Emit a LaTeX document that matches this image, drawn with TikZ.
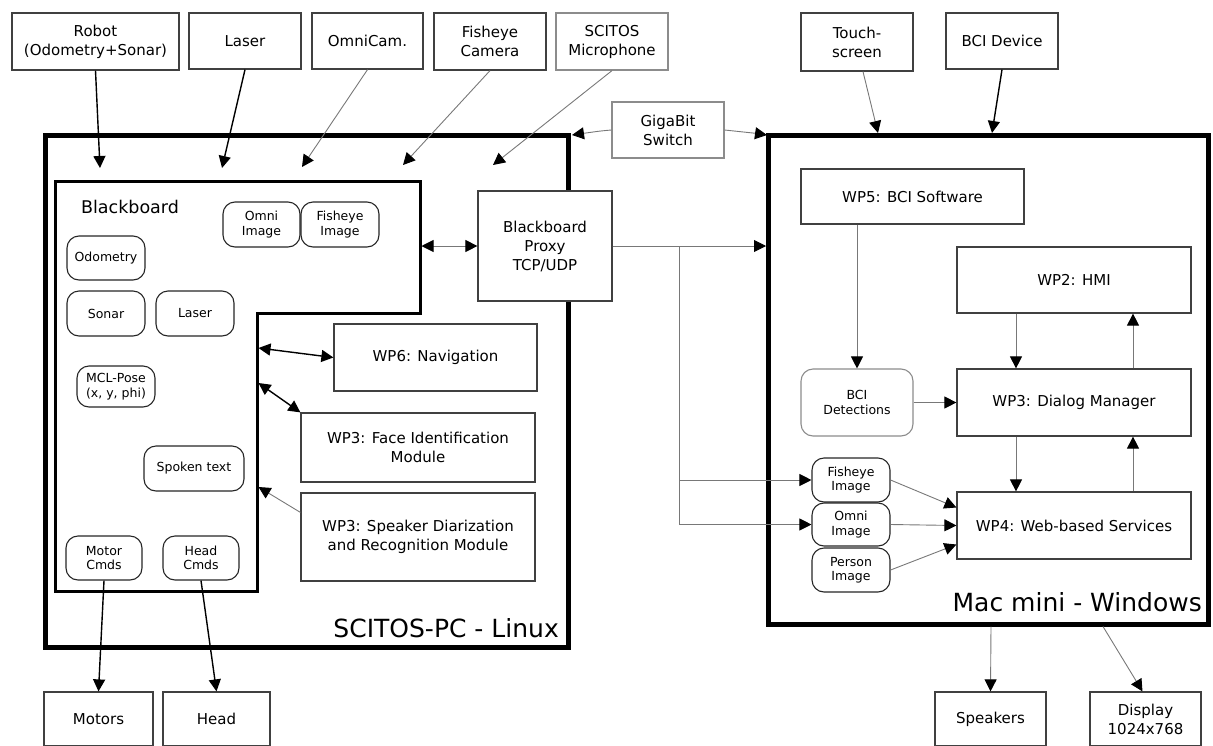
\documentclass[tikz,border=0pt]{standalone}
\usepackage{fontspec}
\setmainfont{DejaVu Sans}
\usetikzlibrary{arrows.meta,calc}
\definecolor{boxc}{HTML}{404040}
\definecolor{lightc}{HTML}{8C8C8C}
\definecolor{linec}{HTML}{787878}
\begin{document}
\begin{tikzpicture}[x=1pt,y=-1pt,
  box/.style={draw=boxc,line width=1.2pt,fill=white,inner sep=2pt,align=center,
    font=\fontsize{15}{19}\selectfont},
  lbox/.style={box,draw=lightc},
  rbox/.style={draw=black!85,line width=1.1pt,rounded corners=12pt,fill=white,inner sep=1pt,
    align=center,font=\fontsize{12.5}{14.5}\selectfont},
  lrbox/.style={rbox,draw=lightc},
  frame/.style={draw=black,line width=5pt,inner sep=0pt,outer sep=0pt},
  tip/.style={-{Triangle[length=12pt,width=12pt,color=black]}},
  dtip/.style={{Triangle[length=12pt,width=12pt,color=black]}-{Triangle[length=12pt,width=12pt,color=black]}},
  blk/.style={draw=black,line width=1.4pt},
  gry/.style={draw=linec,line width=0.9pt},
  biglabel/.style={font=\fontsize{25}{30}\selectfont,inner sep=0pt}]
\useasboundingbox (0,0) rectangle (1213,745);
\clip (0,0) rectangle (1213,745);

% big frames
\node[frame,minimum width=523pt,minimum height=512pt] (scitos) at (306.5,391) {};
\node[frame,minimum width=440pt,minimum height=489pt] (mac) at (988,379.5) {};
\node[biglabel,anchor=east] (scitoslbl) at (559,628) {SCITOS-PC - Linux};
\node[biglabel,anchor=east] (maclbl) at (1202,602) {Mac mini - Windows};

% blackboard L-shaped region
\draw[draw=black,line width=3pt] (55.5,181) -- (420,181) -- (420,313.5) -- (257,313.5) -- (257,591) -- (55.5,591) -- cycle;
\node[font=\fontsize{17.5}{20}\selectfont,inner sep=0pt] (bblabel) at (130,207) {Blackboard};

% top input devices
\node[box,minimum width=167pt,minimum height=57pt] (robot) at (95.5,41.5) {Robot\\(Odometry+Sonar)};
\node[box,minimum width=112pt,minimum height=56pt] (laserS) at (245,41) {Laser};
\node[box,minimum width=111pt,minimum height=56pt] (omnicam) at (367.5,41) {OmniCam.};
\node[box,minimum width=112pt,minimum height=57pt] (fishcam) at (490,41.5) {Fisheye\\Camera};
\node[lbox,minimum width=112pt,minimum height=57pt] (mic) at (612,41.5) {SCITOS\\Microphone};
\node[lbox,minimum width=112pt,minimum height=56pt] (switch) at (668,130) {GigaBit\\Switch};
\node[box,minimum width=112pt,minimum height=58pt] (touch) at (857,42) {Touch-\\screen};
\node[box,minimum width=112pt,minimum height=56pt] (bcidev) at (1002,41) {BCI Device};

% blackboard entries
\node[rbox,minimum width=77pt,minimum height=45pt] (omniB) at (261.5,224.5) {Omni\\Image};
\node[rbox,minimum width=78pt,minimum height=45pt] (fishB) at (340,224.5) {Fisheye\\Image};
\node[rbox,minimum width=78pt,minimum height=44pt] (odo) at (106,258) {Odometry};
\node[rbox,minimum width=78pt,minimum height=45pt] (sonar) at (106,313.5) {Sonar};
\node[rbox,minimum width=78pt,minimum height=45pt] (laserB) at (195,313.5) {Laser};
\node[rbox,minimum width=78pt,minimum height=41pt] (mcl) at (116,386.5) {MCL-Pose\\(x, y, phi)};
\node[rbox,minimum width=100pt,minimum height=45pt] (spoken) at (194,468.5) {Spoken text};
\node[rbox,minimum width=76pt,minimum height=44pt] (motorC) at (104,558) {Motor\\Cmds};
\node[rbox,minimum width=76pt,minimum height=44pt] (headC) at (201,558) {Head\\Cmds};

% SCITOS modules
\node[box,minimum width=134pt,minimum height=110pt] (proxy) at (545,246) {Blackboard\\Proxy\\TCP/UDP};
\node[box,minimum width=203pt,minimum height=67pt] (wp6) at (435.5,357.5) {WP6: Navigation};
\node[box,minimum width=234pt,minimum height=69pt] (face) at (418,447.5) {WP3: Face Identification\\Module};
\node[box,minimum width=234pt,minimum height=88pt] (speaker) at (418,537) {WP3: Speaker Diarization\\and Recognition Module};

% outputs
\node[box,minimum width=109pt,minimum height=54pt] (motors) at (98.5,719) {Motors};
\node[box,minimum width=107pt,minimum height=54pt] (head) at (216.5,719) {Head};
\node[box,minimum width=111pt,minimum height=54pt] (speakers) at (990.5,719) {Speakers};
\node[box,minimum width=111pt,minimum height=54pt] (display) at (1145.5,719) {Display\\1024x768};

% Mac modules
\node[box,minimum width=223pt,minimum height=55pt] (wp5) at (912.5,196.5) {WP5: BCI Software};
\node[box,minimum width=234pt,minimum height=66pt] (wp2) at (1074,280) {WP2: HMI};
\node[lrbox,minimum width=112pt,minimum height=67pt] (bcidet) at (857,402.5) {BCI\\Detections};
\node[box,minimum width=234pt,minimum height=67pt] (dialog) at (1074,402.5) {WP3: Dialog Manager};
\node[box,minimum width=234pt,minimum height=67pt] (wp4) at (1074,525.5) {WP4: Web-based Services};
\node[rbox,minimum width=78pt,minimum height=44pt] (fishR) at (851,480) {Fisheye\\Image};
\node[rbox,minimum width=78pt,minimum height=43pt] (omniR) at (851,524.5) {Omni\\Image};
\node[rbox,minimum width=78pt,minimum height=44pt] (personR) at (851,570) {Person\\Image};

% free ends
\coordinate (inRobot) at (100,168);
\coordinate (inLaser) at (222,168);
\coordinate (inOmni) at (302,167);
\coordinate (inFish) at (403,165);
\coordinate (inMic) at (493,165);
\coordinate (scCorner) at (572,135);
\coordinate (macCorner) at (767,135);
\coordinate (inTouch) at (878,133);
\coordinate (inBci) at (992,133);
\coordinate (bbProxy) at (421.5,246);
\coordinate (macProxy) at (766,246);
\coordinate (branch) at (679,246);
\coordinate (bbNav) at (258.5,348);
\coordinate (bbFace) at (258.5,383);
\coordinate (bbSpk) at (258.5,487);
\coordinate (macOut1) at (991,626.5);
\coordinate (macOut2) at (1103,626.5);

% inputs into SCITOS
\draw[blk,tip] (robot.south) -- (inRobot);
\draw[blk,tip] (laserS.south) -- (inLaser);
\draw[gry,tip] (omnicam.south) -- (inOmni);
\draw[gry,tip] (fishcam.south) -- (inFish);
\draw[gry,tip] (mic.south) -- (inMic);
\draw[gry,tip] (switch.west) .. controls (600,131) .. (scCorner);
\draw[gry,tip] (switch.east) .. controls (740,131) .. (macCorner);
\draw[gry,tip] ($(touch.south)+(6,0)$) -- (inTouch);
\draw[blk,tip] (bcidev.south) -- (inBci);

% proxy
\draw[gry,dtip] (bbProxy) -- (proxy.west);
\draw[gry,tip] (proxy.east) -- (macProxy);
\draw[gry,tip] (branch) |- (fishR.west);
\draw[gry,tip] (branch) |- (omniR.west);

% modules to blackboard
\draw[blk,dtip] (bbNav) -- (wp6.west);
\draw[blk,dtip] (bbFace) -- (face.north west);
\draw[gry,tip] ($(speaker.north west)+(0,20)$) -- (bbSpk);

% outputs
\draw[blk,tip] (motorC.south) -- (motors.north);
\draw[blk,tip] (headC.south) -- (head.north);
\draw[gry,tip] (macOut1) -- (speakers.north);
\draw[gry,tip] (macOut2) -- ($(display.north)+(-3,0)$);

% Mac internals
\draw[gry,tip] (bcidet.north |- wp5.south) -- (bcidet.north);
\draw[gry,tip] (bcidet.east) -- (dialog.west);
\draw[gry,tip] ($(wp2.south)+(-58,0)$) -- ($(dialog.north)+(-58,0)$);
\draw[gry,tip] ($(dialog.north)+(59,0)$) -- ($(wp2.south)+(59,0)$);
\draw[gry,tip] ($(dialog.south)+(-58,0)$) -- ($(wp4.north)+(-58,0)$);
\draw[gry,tip] ($(wp4.north)+(59,0)$) -- ($(dialog.south)+(59,0)$);
\draw[gry,tip] (fishR.east) -- ($(wp4.west)+(0,-18)$);
\draw[gry,tip] (omniR.east) -- (wp4.west);
\draw[gry,tip] (personR.east) -- ($(wp4.west)+(0,19)$);
\end{tikzpicture}
\end{document}
